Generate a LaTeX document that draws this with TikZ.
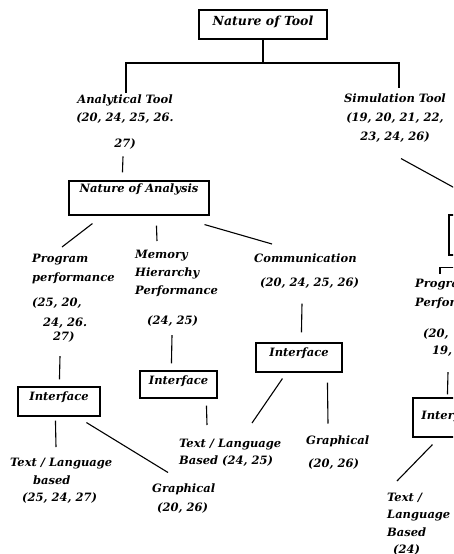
\documentclass[tikz,border=0pt]{standalone}
\usepackage{fontspec}
\setmainfont{DejaVu Serif}
\usetikzlibrary{calc}
\tikzset{
  lbl/.style={font=\fontsize{11.5}{18}\selectfont\bfseries\itshape, inner sep=0pt},
  ibox/.style={draw, line width=1.1pt, inner sep=0pt, font=\fontsize{11.5}{18}\selectfont\bfseries\itshape},
  link/.style={line width=1.1pt},
}
\begin{document}
\begin{tikzpicture}[x=1pt,y=-1pt]
    \useasboundingbox (0,0) rectangle (453,554);
    \clip (0,0) rectangle (453,554);
    % boxes
    \node [ibox, minimum width=128pt, text height=15.5pt, text depth=13.5pt, font=\fontsize{12.5}{18}\selectfont\bfseries\itshape] (t0) at (263,24.5) {Nature of Tool};
    \node [ibox, minimum width=140pt, text height=11.5pt, text depth=22.5pt] (na) at (139,198) {Nature of Analysis};
    \node [ibox, minimum width=140pt, minimum height=40pt] (ns) at (519,235) {};
    \node [ibox, minimum width=82pt, text height=13.5pt, text depth=15.5pt] (i1) at (59,401.5) {Interface};
    \node [ibox, minimum width=77pt, text height=13.5pt, text depth=13.5pt] (i2) at (178.5,384.5) {Interface};
    \node [ibox, minimum width=86pt, text height=13.5pt, text depth=15.5pt] (i3) at (299,357.5) {Interface};
    \node [ibox, minimum width=76pt, text height=21.5pt, text depth=17.5pt] (i4) at (451,417.5) {Interface};
    % labels
    \coordinate (sp) at (263,63);
    \node [lbl, align=center, anchor=north] (a1) at (125,94.5) {Analytical Tool\\(20, 24, 25, 26.\\[8pt]27)};
    \node [lbl, align=center, anchor=north] (s1) at (395,93.5) {Simulation Tool\\[1pt](19, 20, 21, 22,\\[1pt]23, 24, 26)};
    \node [lbl, align=left, anchor=north west] (p1) at (32,253.5) {Program\\[1pt]performance\\[7pt](25, 20,\\[2pt]\hspace*{11pt}24, 26.\\[-4pt]\hspace*{21pt}27)};
    \node [lbl, align=left, anchor=north west] (m1) at (135,249.5) {Memory\\Hierarchy\\Performance\\[12pt]\hspace*{12pt}(24, 25)};
    \node [lbl, align=left, anchor=north west] (c1) at (254,253.5) {Communication\\[6pt]\hspace*{6pt}(20, 24, 25, 26)};
    \node [lbl, align=left, anchor=north west] (p2) at (415,278.5) {Program\\[1pt]Performance\\[13pt]\hspace*{8pt}(20,\\[-1pt]\hspace*{17pt}19,};
    \node [lbl, align=left, anchor=north west] (x1) at (10,457.5) {Text / Language\\\hspace*{23pt}based\\[-1pt]\hspace*{12pt}(25, 24, 27)};
    \node [lbl, align=left, anchor=north west] (g1) at (152,483.5) {Graphical\\[1pt]\hspace*{5pt}(20, 26)};
    \node [lbl, align=left, anchor=north west] (x2) at (179,438.5) {Text / Language\\[-1pt]Based (24, 25)};
    \node [lbl, align=left, anchor=north west] (g2) at (306,435.5) {Graphical\\[5pt]\hspace*{2pt}(20, 26)};
    \node [lbl, align=left, anchor=north west] (x3) at (387,492.5) {Text /\\[-0.5pt]Language\\[-0.5pt]Based\\[-0.5pt]\hspace*{6pt}(24)};
    % connectors
    \draw [link] (t0.south) -- (sp);
    \draw [link] ($(a1.north)+(1,-2)$) |- (sp) -| ($(s1.north)+(4,-6)$);
    \draw [link] ($(a1.south)+(-2,7)$) -- ($(na.north west)+(54,-8)$);
    \draw [link] ($(s1.south)+(6,16)$) -- ($(ns.north west)+(49,-3)$);
    \draw [link] ($(na.south west)+(24,8)$) -- ($(p1.north west)+(30,-6.5)$);
    \draw [link] ($(na.south west)+(88,10)$) -- ($(m1.north west)+(22,-8.5)$);
    \draw [link] ($(na.south east)+(-5,9)$) -- ($(c1.north west)+(18,-9.5)$);
    \draw [link] ($(p2.north west)+(25,-5)$) |- ($(ns.south west)+(20,12)$);
    \draw [link] ($(p1.south west)+(28,14)$) -- ($(i1.north west)+(42,-7)$);
    \draw [link] ($(m1.south west)+(37,9)$) -- ($(i2.north west)+(32,-7)$);
    \draw [link] ($(c1.south west)+(48,15)$) -- ($(i3.north west)+(46,-10)$);
    \draw [link] ($(p2.south west)+(33,16)$) -- ($(i4.north west)+(35,-3)$);
    \draw [link] ($(i1.south west)+(38,4)$) -- ($(x1.north west)+(46,-10.5)$);
    \draw [link] ($(i1.south west)+(69,6)$) -- ($(g1.north west)+(16,-11)$);
    \draw [link] ($(i2.south west)+(67,7)$) -- ($(x2.north west)+(28,-13.5)$);
    \draw [link] ($(i3.south west)+(27,6)$) -- ($(x2.north west)+(73,-15.5)$);
    \draw [link] ($(i3.south west)+(72,10)$) -- ($(g2.north west)+(22,-12)$);
    \draw [link] ($(i4.south west)+(20,7)$) -- ($(x3.north west)+(10,-11.5)$);
\end{tikzpicture}
\end{document}
